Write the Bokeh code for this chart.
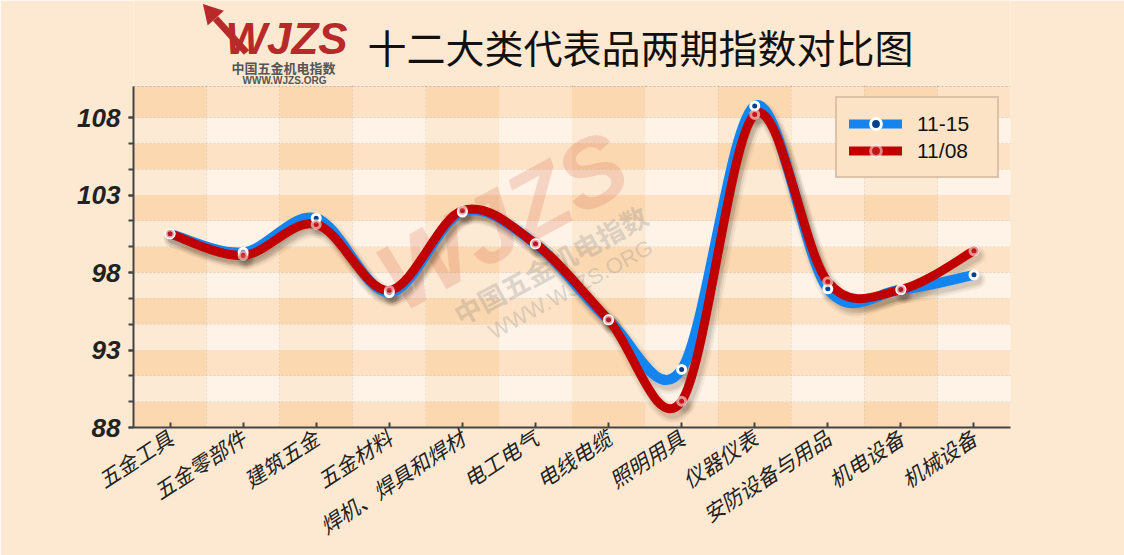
import numpy as np
from bokeh.plotting import figure
from bokeh.models import Range1d, FixedTicker, Legend, LegendItem, ColumnDataSource
from bokeh.core.properties import value
from bokeh.embed import file_html
from bokeh.resources import INLINE

# ---------------- data ----------------
categories = ["五金工具", "五金零部件", "建筑五金", "五金材料", "焊机、焊具和焊材", "电工电气",
              "电线电缆", "照明用具", "仪器仪表", "安防设备与用品", "机电设备", "机械设备"]
series_names = ["11-15", "11/08"]
values_1115 = [100.5, 99.3, 101.5, 96.7, 101.9, 99.85, 94.95, 91.75, 108.75, 96.95, 96.9, 97.85]
values_1108 = [100.5, 99.1, 101.1, 96.85, 102.0, 99.85, 94.95, 89.7, 108.2, 97.4, 96.9, 99.4]
y_major_ticks = [88, 93, 98, 103, 108]
y_min, y_max = 88, 110
y_step = 5 / 3

BLUE = "#1484f0"
RED = "#c00000"
BG = "#fde9d2"

# ---------------- figure ----------------
W, H = 1124, 555
FL, FR, FT, FB = 133, 1010, 86, 427     # plot-area edges on the page
y_top = y_min + FB / (FB - FT) * (y_max - y_min)   # frame reaches the page top (room for title/logo)
p = figure(width=W, height=H, output_backend="svg", toolbar_location=None,
           x_range=Range1d(-0.5, len(categories) - 0.5), y_range=Range1d(y_min, y_top),
           min_border_left=FL, min_border_right=W - FR, min_border_top=0, min_border_bottom=H - FB)
p.border_fill_color = BG
p.background_fill_color = BG
p.outline_line_color = None

def dx(px):
    return -0.5 + (px - FL) / (FR - FL) * len(categories)
def dy(py):
    return y_min + (FB - py) / (FB - FT) * (y_max - y_min)

# ---------------- background cells ----------------
n_rows = int(round((y_major_ticks[-1] - y_min) / y_step))
row_edges = [y_min + k * y_step for k in range(n_rows + 1)] + [y_max]
cell_l, cell_r, cell_b, cell_t, cell_c = [], [], [], [], []
cols = {(0, 0): "#fcd8b0", (0, 1): "#fde2c5", (1, 0): "#fdead4", (1, 1): "#fef3e6"}
for j in range(len(row_edges) - 1):
    for i in range(len(categories)):
        cell_l.append(i - 0.5); cell_r.append(i + 0.5)
        cell_b.append(row_edges[j]); cell_t.append(row_edges[j + 1])
        cell_c.append(cols[(j % 2, i % 2)])
p.quad(left=cell_l, right=cell_r, bottom=cell_b, top=cell_t, fill_color=cell_c, line_color=None)

# ---------------- grid ----------------
p.xgrid.ticker = FixedTicker(ticks=[i + 0.5 for i in range(len(categories))])
p.ygrid.ticker = FixedTicker(ticks=row_edges)
p.ygrid.bounds = (-0.5, len(categories) - 0.5)
for g in (p.xgrid, p.ygrid):
    g.grid_line_color = "#8c8c8c"
    g.grid_line_dash = "2 2"
    g.grid_line_width = 1
    g.grid_line_alpha = 0.9
    g.level = "underlay"

# cover the title band above the plot area (hides the vertical grid lines there)
px_unit = (y_max - y_min) / (FB - FT)
p.quad(left=[-0.5], right=[len(categories) - 0.5], bottom=[y_max + 1.0 * px_unit], top=[y_top],
       fill_color=BG, line_color=None)

# ---------------- watermark ----------------
ang = 0.5
p.text(x=[dx(502)], y=[dy(220)], text=["WJZS"], angle=ang, text_font=value("Liberation Sans"),
       text_font_style="bold italic", text_font_size="96px", text_color="#d86a4c", text_alpha=0.22,
       text_align="center", text_baseline="middle")
p.text(x=[dx(550)], y=[dy(264)], text=["中国五金机电指数"], angle=ang, text_font=value("Noto Sans CJK SC"),
       text_font_style="bold", text_font_size="27px", text_color="#8a8a8a", text_alpha=0.3,
       text_align="center", text_baseline="middle")
p.text(x=[dx(570)], y=[dy(289)], text=["WWW.WJZS.ORG"], angle=ang, text_font=value("Liberation Sans"),
       text_font_style="normal", text_font_size="22px", text_color="#8a8a8a", text_alpha=0.3,
       text_align="center", text_baseline="middle")

# ---------------- smoothed series ----------------
def bezier_parts(ys):
    n = len(ys)
    pts = [(float(i), float(v)) for i, v in enumerate(ys)]
    out = {k: [] for k in ("x0", "y0", "x1", "y1", "cx0", "cy0", "cx1", "cy1")}
    for i in range(n - 1):
        p0 = pts[i - 1] if i > 0 else pts[i]
        p1, p2 = pts[i], pts[i + 1]
        p3 = pts[i + 2] if i + 2 < n else pts[i + 1]
        out["x0"].append(p1[0]); out["y0"].append(p1[1])
        out["x1"].append(p2[0]); out["y1"].append(p2[1])
        out["cx0"].append(p1[0] + (p2[0] - p0[0]) / 6); out["cy0"].append(p1[1] + (p2[1] - p0[1]) / 6)
        out["cx1"].append(p2[0] - (p3[0] - p1[0]) / 6); out["cy1"].append(p2[1] - (p3[1] - p1[1]) / 6)
    return out

sx_off = 3 * len(categories) / (FR - FL)
sy_off = -5 * px_unit

def shifted(d, ox, oy):
    return {k: [a + (ox if "x" in k else oy) for a in v] for k, v in d.items()}

bz_b = bezier_parts(values_1115)
bz_r = bezier_parts(values_1108)
bkw = dict(x0="x0", y0="y0", x1="x1", y1="y1", cx0="cx0", cy0="cy0", cx1="cx1", cy1="cy1")

for bz in (bz_b, bz_r):
    sh = ColumnDataSource(shifted(bz, sx_off, sy_off))
    for w, a in ((18, 0.05), (14, 0.07), (10, 0.10)):
        p.bezier(source=sh, line_color="#3a2a1a", line_alpha=a, line_width=w, line_cap="round", **bkw)

p.bezier(source=ColumnDataSource(bz_b), line_color=BLUE, line_width=10, line_cap="round", **bkw)
p.bezier(source=ColumnDataSource(bz_r), line_color=RED, line_width=9, line_cap="round", **bkw)

xs = list(range(len(categories)))
p.scatter(xs, values_1115, size=8, fill_color="#0b3f8c", line_color="white", line_width=3)
p.scatter(xs, values_1108, size=8, fill_color="#c81818", fill_alpha=0.85,
          line_color="white", line_alpha=0.55, line_width=3)

# ---------------- legend ----------------
nan = float("nan")
lb = p.line([0], [nan], line_color=BLUE, line_width=9, line_cap="round")
lbm = p.scatter([0], [nan], fill_color="#0b3f8c", line_color="white", line_width=3)
lr = p.line([0], [nan], line_color=RED, line_width=9, line_cap="round")
lrm = p.scatter([0], [nan], fill_color="#c81818", fill_alpha=0.85, line_color="white",
                line_alpha=0.5, line_width=3)
legend = Legend(items=[LegendItem(label=series_names[0], renderers=[lb, lbm], index=0),
                       LegendItem(label=series_names[1], renderers=[lr, lrm], index=0)],
                location=(702, 249), orientation="vertical",
                glyph_width=53, glyph_height=27, label_height=27, label_width=68,
                label_standoff=15, padding=12, spacing=0, margin=0,
                label_text_font="Liberation Sans", label_text_font_size="21px",
                label_text_color="#111111", label_text_baseline="middle",
                background_fill_color="#fde3c6", background_fill_alpha=1.0,
                border_line_color="#9a8470", border_line_alpha=0.35, border_line_width=2)
p.add_layout(legend)

# ---------------- axes ----------------
yax = p.yaxis[0]
yax.bounds = (y_min, y_max)
yax.ticker = FixedTicker(ticks=y_major_ticks, minor_ticks=row_edges[:-1])
yax.axis_line_color = "#444444"
yax.axis_line_width = 2
yax.major_tick_line_color = "#444444"
yax.minor_tick_line_color = "#444444"
yax.major_tick_line_width = 2
yax.minor_tick_line_width = 2
yax.major_tick_out = 5
yax.minor_tick_out = 5
yax.major_tick_in = 0
yax.minor_tick_in = 0
yax.major_label_text_font = "Liberation Sans"
yax.major_label_text_font_style = "bold italic"
yax.major_label_text_font_size = "26px"
yax.major_label_text_color = "#222222"
yax.major_label_standoff = 8

xax = p.xaxis[0]
xax.ticker = FixedTicker(ticks=xs)
xax.major_label_overrides = {i: c for i, c in enumerate(categories)}
xax.axis_line_color = "#444444"
xax.axis_line_width = 2
xax.major_tick_line_color = "#444444"
xax.major_tick_line_width = 2
xax.major_tick_in = 5
xax.major_tick_out = 0
xax.minor_tick_line_color = None
xax.major_label_orientation = 0.58
xax.major_label_text_font = "Noto Sans CJK SC"
xax.major_label_text_font_style = "italic"
xax.major_label_text_font_size = "21px"
xax.major_label_text_color = "#222222"
xax.major_label_standoff = 8

# ---------------- title & logo (in the top band of the frame) ----------------
p.text(x=[dx(640)], y=[dy(45)], text=["十二大类代表品两期指数对比图"], text_align="center",
       text_baseline="middle", text_font=value("Noto Sans CJK SC"), text_font_size="39px",
       text_color="#111111")
LOGO = "#b8292a"
p.segment(x0=[dx(246)], y0=[dy(52)], x1=[dx(215)], y1=[dy(18)], line_color=LOGO, line_width=7)
p.scatter(x=[dx(211)], y=[dy(13)], marker="triangle", size=22, angle=0.74,
          fill_color=LOGO, line_color=None)
p.text(x=[dx(286)], y=[dy(38)], text=["WJZS"], text_align="center", text_baseline="middle",
       text_font=value("Liberation Sans"), text_font_style="bold italic", text_font_size="44px",
       text_color=LOGO)
p.text(x=[dx(283)], y=[dy(67)], text=["中国五金机电指数"], text_align="center", text_baseline="middle",
       text_font=value("Noto Sans CJK SC"), text_font_style="bold", text_font_size="13px",
       text_color="#555555")
p.text(x=[dx(284)], y=[dy(80)], text=["WWW.WJZS.ORG"], text_align="center", text_baseline="middle",
       text_font=value("Liberation Sans"), text_font_style="bold", text_font_size="10px",
       text_color="#555555")

open("out.html", "w").write(file_html(p, INLINE))
